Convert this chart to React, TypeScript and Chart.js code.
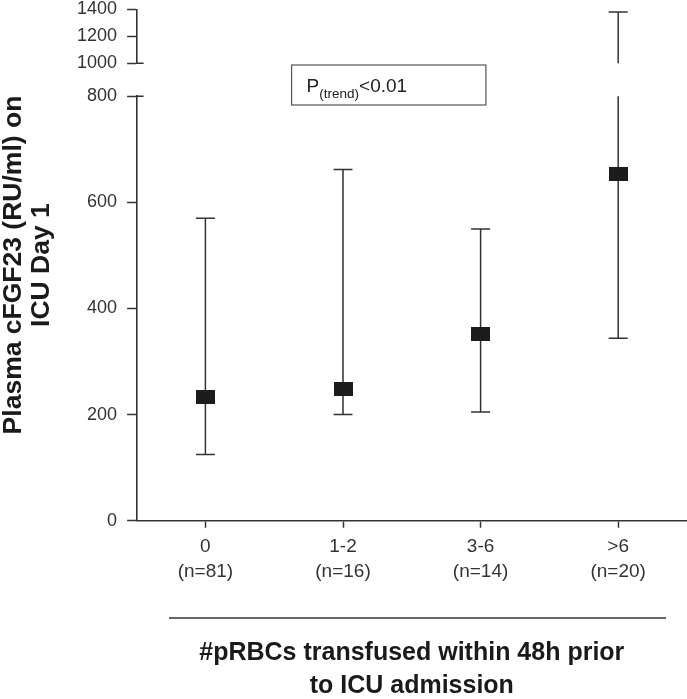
import { useEffect, useRef } from 'react';
import { Chart, registerables } from 'chart.js';

Chart.register(...registerables);

// ---- data ----
const categories = [
  ['0', '(n=81)'],
  ['1-2', '(n=16)'],
  ['3-6', '(n=14)'],
  ['>6', '(n=20)'],
];
const centerValues = [233, 248, 351, 653];
const lowerValues = [125, 200, 205, 344];
const upperValues = [570, 662, 550, 1380];
const lowerTicks = [0, 200, 400, 600, 800];
const upperTicks = [1000, 1200, 1400];
const yTitle = ['Plasma cFGF23 (RU/ml) on', 'ICU Day 1'];
const xTitle = ['#pRBCs transfused within 48h prior', 'to ICU admission'];
const pMain = 'P';
const pSub = '(trend)';
const pTail = '<0.01';

const FAMILY = '"Liberation Sans", Arial, Helvetica, sans-serif';
const AXIS = '#333333';

const errorBarPlugin = {
  id: 'errorBars',
  beforeDatasetsDraw(chart: any) {
    const { ctx } = chart;
    const xs = chart.scales.x;
    const lo = chart.scales.yLow;
    const hi = chart.scales.yHigh;
    const capHalf = 9.5;
    ctx.save();
    ctx.strokeStyle = AXIS;
    ctx.lineWidth = 1.5;
    centerValues.forEach((_, i) => {
      const px = xs.getPixelForValue(i);
      const yb = lo.getPixelForValue(lowerValues[i]);
      let yt: number;
      ctx.beginPath();
      ctx.moveTo(px - capHalf, yb);
      ctx.lineTo(px + capHalf, yb);
      ctx.moveTo(px, yb);
      if (upperValues[i] <= lo.max) {
        yt = lo.getPixelForValue(upperValues[i]);
        ctx.lineTo(px, yt);
      } else {
        ctx.lineTo(px, lo.getPixelForValue(lo.max));
        ctx.moveTo(px, hi.getPixelForValue(hi.min));
        yt = hi.getPixelForValue(upperValues[i]);
        ctx.lineTo(px, yt);
      }
      ctx.moveTo(px - capHalf, yt);
      ctx.lineTo(px + capHalf, yt);
      ctx.stroke();
    });
    ctx.restore();
  },
};

const decorPlugin = {
  id: 'decor',
  afterDraw(chart: any) {
    const { ctx, chartArea } = chart;
    const lo = chart.scales.yLow;
    const hi = chart.scales.yHigh;
    ctx.save();
    ctx.strokeStyle = AXIS;
    ctx.lineWidth = 1.5;
    // axis break caps
    ctx.beginPath();
    const yBreakLow = lo.getPixelForValue(lo.max);
    const yBreakHigh = hi.getPixelForValue(hi.min);
    ctx.moveTo(chartArea.left, yBreakLow);
    ctx.lineTo(chartArea.left + 7, yBreakLow);
    ctx.moveTo(chartArea.left, yBreakHigh);
    ctx.lineTo(chartArea.left + 7, yBreakHigh);
    ctx.stroke();

    // rule above the x title
    ctx.beginPath();
    const ruleY = chartArea.bottom + 97.3;
    ctx.moveTo(chartArea.left + 32.4, ruleY);
    ctx.lineTo(chartArea.right - 21, ruleY);
    ctx.stroke();

    // P(trend) box
    const bx = chartArea.left + 155;
    const by = chartArea.top + 55.7;
    const bw = 194.3;
    const bh = 40;
    ctx.strokeStyle = '#555555';
    ctx.lineWidth = 1.2;
    ctx.strokeRect(bx, by, bw, bh);
    ctx.fillStyle = '#222222';
    ctx.textBaseline = 'alphabetic';
    ctx.textAlign = 'left';
    let tx = bx + 15;
    const base = by + 26.7;
    ctx.font = `19px ${FAMILY}`;
    ctx.fillText(pMain, tx, base);
    tx += ctx.measureText(pMain).width;
    ctx.font = `13.5px ${FAMILY}`;
    ctx.fillText(pSub, tx, base + 6);
    tx += ctx.measureText(pSub).width;
    ctx.font = `19px ${FAMILY}`;
    ctx.fillText(pTail, tx, base);
    ctx.restore();
  },
};

export default function App() {
  const ref = useRef<HTMLCanvasElement | null>(null);

  useEffect(() => {
    if (!ref.current) return;
    const marker = document.createElement('canvas');
    marker.width = 19;
    marker.height = 14;
    const mctx = marker.getContext('2d')!;
    mctx.fillStyle = '#1c1c1c';
    mctx.fillRect(0, 0, 19, 14);

    const tickGrid = (len: number) => ({
      display: true,
      drawOnChartArea: false,
      drawTicks: true,
      tickLength: len,
      tickWidth: 1.5,
      tickColor: AXIS,
      color: AXIS,
    });

    const yFit = (s: any) => {
      s.width = 69.6;
      s.paddingTop = 0;
      s.paddingBottom = 0;
    };

    const yTicks = {
      font: { family: FAMILY, size: 18, lineHeight: 1 },
      color: AXIS,
      padding: 10,
      autoSkip: false,
      callback: (v: any) => String(v),
    };

    const chart = new Chart(ref.current, {
      type: 'line',
      data: {
        labels: categories as any,
        datasets: [
          {
            data: centerValues,
            xAxisID: 'x',
            yAxisID: 'yLow',
            showLine: false,
            pointStyle: marker as any,
            pointRadius: 5,
            borderColor: '#1c1c1c',
            backgroundColor: '#1c1c1c',
          },
        ],
      },
      options: {
        responsive: false,
        animation: false,
        events: [],
        layout: { autoPadding: false, padding: { top: 9.3, right: 0, bottom: 0, left: 0 } },
        plugins: {
          legend: { display: false },
          tooltip: { enabled: false },
          title: {
            display: true,
            position: 'left',
            fullSize: false,
            text: yTitle,
            color: '#1a1a1a',
            font: { family: FAMILY, size: 26.5, weight: 'bold', lineHeight: 28 / 26.5 },
            padding: { top: 0, bottom: 11 },
          },
        },
        scales: {
          x: {
            type: 'category',
            offset: true,
            afterFit: (s: any) => {
              s.paddingLeft = 0;
              s.paddingRight = 0;
            },
            grid: tickGrid(7) as any,
            border: { display: true, color: AXIS, width: 1.6 },
            ticks: {
              font: { family: FAMILY, size: 19, lineHeight: 1.33 },
              color: AXIS,
              padding: 6,
              maxRotation: 0,
              autoSkip: false,
            },
            title: {
              display: true,
              text: xTitle,
              color: '#1a1a1a',
              font: { family: FAMILY, size: 25, weight: 'bold', lineHeight: 1.3 },
              padding: { top: 46.7, bottom: -3 },
            },
          },
          yLow: {
            type: 'linear',
            position: 'left',
            stack: 'y',
            stackWeight: 424.5,
            min: lowerTicks[0],
            max: lowerTicks[lowerTicks.length - 1],
            afterBuildTicks: (s: any) => {
              s.ticks = lowerTicks.map((value) => ({ value }));
            },
            afterFit: yFit,
            grid: tickGrid(9.5) as any,
            border: { display: true, color: AXIS, width: 1.6 },
            ticks: yTicks,
          },
          yGap: {
            type: 'linear',
            position: 'left',
            stack: 'y',
            stackWeight: 32.9,
            min: lowerTicks[lowerTicks.length - 1],
            max: upperTicks[0],
            afterFit: (s: any) => {
              s.paddingTop = 0;
              s.paddingBottom = 0;
            },
            grid: { display: false },
            border: { display: false },
            ticks: { display: false },
          },
          yHigh: {
            type: 'linear',
            position: 'left',
            stack: 'y',
            stackWeight: 54,
            min: upperTicks[0],
            max: upperTicks[upperTicks.length - 1],
            afterBuildTicks: (s: any) => {
              s.ticks = upperTicks.map((value) => ({ value }));
            },
            afterFit: yFit,
            grid: tickGrid(9.5) as any,
            border: { display: true, color: AXIS, width: 1.6 },
            ticks: yTicks,
          },
        },
      } as any,
      plugins: [errorBarPlugin, decorPlugin],
    });
    return () => chart.destroy();
  }, []);

  return (
    <div style={{ position: 'fixed', left: 0, top: 0, width: 687, height: 699, background: '#fff' }}>
      <canvas ref={ref} width={687} height={699} style={{ width: 687, height: 699, display: 'block' }} />
    </div>
  );
}
